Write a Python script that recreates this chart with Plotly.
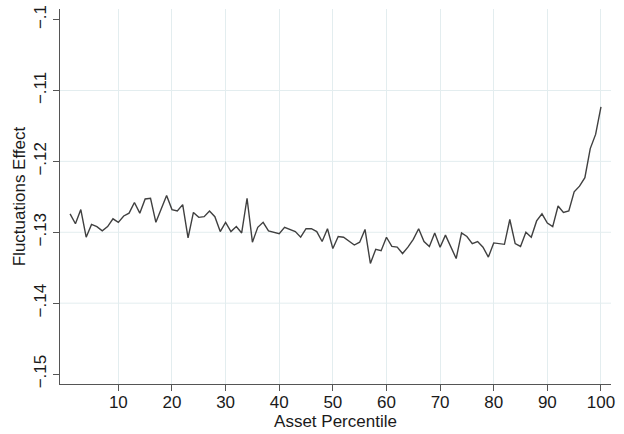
import plotly.graph_objects as go

# Asset percentile (1..100) and the estimated fluctuations effect at each
percentile = list(range(1, 101))
effect = [
    -0.1274, -0.1288, -0.1268, -0.1307, -0.1289, -0.1292, -0.1298, -0.1292, -0.1281, -0.1286,
    -0.1277, -0.1273, -0.1258, -0.1273, -0.1253, -0.1252, -0.1286, -0.1267, -0.1248, -0.1268,
    -0.1270, -0.1261, -0.1308, -0.1272, -0.1279, -0.1278, -0.1270, -0.1278, -0.1299, -0.1286,
    -0.1299, -0.1292, -0.1301, -0.1252, -0.1314, -0.1293, -0.1286, -0.1298, -0.1300, -0.1302,
    -0.1293, -0.1296, -0.1299, -0.1307, -0.1295, -0.1295, -0.1299, -0.1313, -0.1295, -0.1323,
    -0.1306, -0.1307, -0.1313, -0.1318, -0.1314, -0.1296, -0.1344, -0.1324, -0.1326, -0.1307,
    -0.1320, -0.1321, -0.1330, -0.1321, -0.1310, -0.1295, -0.1313, -0.1320, -0.1301, -0.1321,
    -0.1304, -0.1321, -0.1337, -0.1301, -0.1306, -0.1316, -0.1313, -0.1321, -0.1335, -0.1315,
    -0.1316, -0.1317, -0.1282, -0.1316, -0.1320, -0.1300, -0.1307, -0.1284, -0.1274, -0.1287,
    -0.1292, -0.1263, -0.1272, -0.1270, -0.1243, -0.1235, -0.1223, -0.1182, -0.1162, -0.1123,
]

x_ticks = [10, 20, 30, 40, 50, 60, 70, 80, 90, 100]
y_ticks = [-0.15, -0.14, -0.13, -0.12, -0.11, -0.10]
y_tick_text = ["\u2212.15", "\u2212.14", "\u2212.13", "\u2212.12", "\u2212.11", "\u2212.1"]
y_grid = [-0.14, -0.13, -0.12, -0.11]

GRID = "#e3edef"
AXIS = "#555555"
FONT = dict(family="Liberation Sans, Arial, sans-serif", size=17, color="#1a1a1a")

fig = go.Figure()
fig.add_trace(go.Scatter(
    x=percentile, y=effect, mode="lines",
    line=dict(color="#404040", width=1.4),
    showlegend=False, hoverinfo="x+y",
))

for v in y_grid:
    fig.add_hline(y=v, line=dict(color=GRID, width=1), layer="below")

fig.update_layout(
    width=624, height=434,
    margin=dict(l=60, r=13, t=5, b=50),
    paper_bgcolor="white", plot_bgcolor="white",
    font=FONT,
    xaxis=dict(
        range=[-0.88, 101.87],
        tickmode="array", tickvals=x_ticks,
        showgrid=True, gridcolor=GRID, gridwidth=1,
        zeroline=False,
        showline=True, linecolor=AXIS, linewidth=1.3,
        ticks="outside", ticklen=6, tickwidth=1.3, tickcolor=AXIS,
        tickfont=FONT, ticklabelstandoff=-4,
        title=dict(text="Asset Percentile", font=FONT, standoff=2),
    ),
    yaxis=dict(
        range=[-0.15140, -0.09851],
        tickmode="array", tickvals=y_ticks, ticktext=y_tick_text,
        tickangle=-90,
        showgrid=False, zeroline=False,
        showline=True, linecolor=AXIS, linewidth=1.3,
        ticks="outside", ticklen=6, tickwidth=1.3, tickcolor=AXIS,
        tickfont=FONT,
        title=dict(text="Fluctuations Effect", font=FONT, standoff=1),
    ),
)

fig.write_html("out.html")
